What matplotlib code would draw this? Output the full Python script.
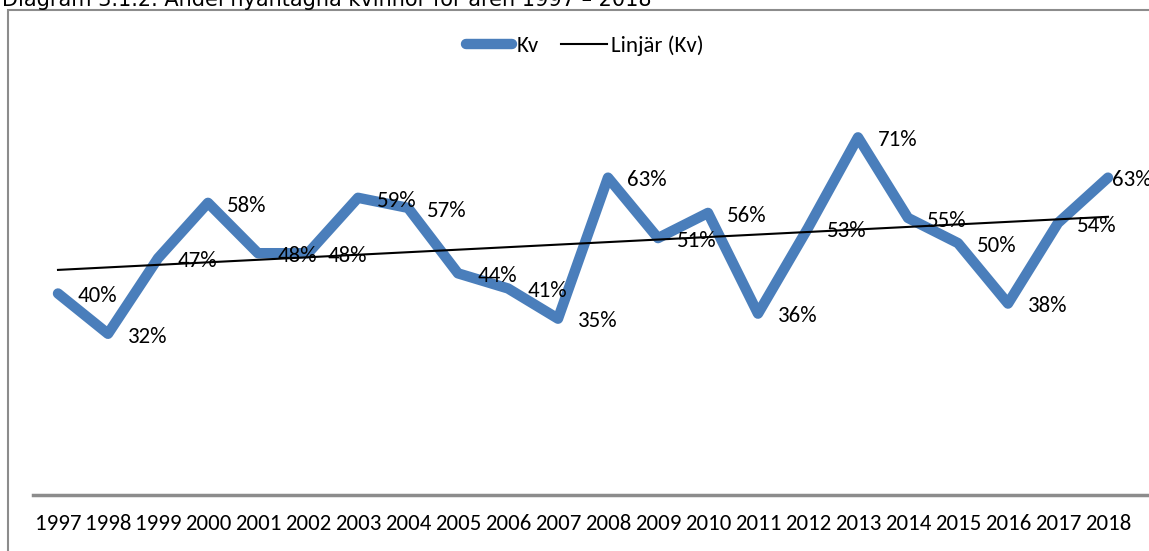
import numpy as np
import matplotlib
matplotlib.use("Agg")
import matplotlib.pyplot as plt
from matplotlib.patches import Rectangle

# Andel nyantagna kvinnor per år
years = ["1997", "1998", "1999", "2000", "2001", "2002", "2003", "2004", "2005", "2006", "2007",
         "2008", "2009", "2010", "2011", "2012", "2013", "2014", "2015", "2016", "2017", "2018"]
kv = [0.40, 0.32, 0.47, 0.58, 0.48, 0.48, 0.59, 0.57, 0.44, 0.41, 0.35,
      0.63, 0.51, 0.56, 0.36, 0.53, 0.71, 0.55, 0.50, 0.38, 0.54, 0.63]
title = "Diagram 3.1.2. Andel nyantagna kvinnor för åren 1997 \u2013 2018"

FONT = ["Carlito", "Lato", "DejaVu Sans"]
FS = 16.5

W, H = 1149, 551
fig = plt.figure(figsize=(W / 100, H / 100), dpi=100)

# ram runt diagramytan (avskuren till höger och nedtill)
fig.patches.append(Rectangle((8 / W, -0.1), 1.2, 1 - 10 / H + 0.1, transform=fig.transFigure,
                             fill=False, edgecolor="#8c8c8c", linewidth=1.5))
# rubriken ligger ovanför bilden och syns bara till hälften
fig.text(2 / W, 1 - 6 / H, title, fontsize=15, family="DejaVu Sans", va="baseline")

ax = fig.add_axes([33 / W, 1 - 495 / H, (W - 33) / W, 403 / H])
x = np.arange(len(years))
ax.plot(x, kv, color="#4a7ebb", linewidth=7.5, solid_joinstyle="round",
        solid_capstyle="round", label="Kv")

# linjär trendlinje
k, m = np.polyfit(x, kv, 1)
ax.plot(x, k * x + m, color="black", linewidth=1.5, label="Linjär (Kv)")

for xi, v in zip(x, kv):
    dx = 3 if xi == x[-1] else 14
    ax.annotate(f"{round(v * 100)}%", (xi, v), xytext=(dx, -2), textcoords="offset points",
                ha="left", va="center", fontsize=FS, family=FONT, annotation_clip=False)

ax.set_xlim(-0.5, -0.5 + (W - 33) / 50)
ax.set_ylim(0, 0.8)
ax.set_xticks(x)
ax.set_xticklabels(years, family=["Carlito", "DejaVu Sans"], fontstretch="condensed", fontsize=FS)
ax.tick_params(axis="x", length=0, pad=14)
ax.set_yticks([])
for s in ["top", "right", "left"]:
    ax.spines[s].set_visible(False)
ax.spines["bottom"].set_color("#8c8c8c")
ax.spines["bottom"].set_linewidth(2.5)
ax.patch.set_visible(False)

fig.legend(loc="center", bbox_to_anchor=(585 / W, 1 - 46 / H), ncol=2, frameon=False,
           prop={"family": FONT, "size": FS}, handlelength=2.0,
           handletextpad=0.2, columnspacing=0.95)

fig.savefig("out.png", dpi=100)
